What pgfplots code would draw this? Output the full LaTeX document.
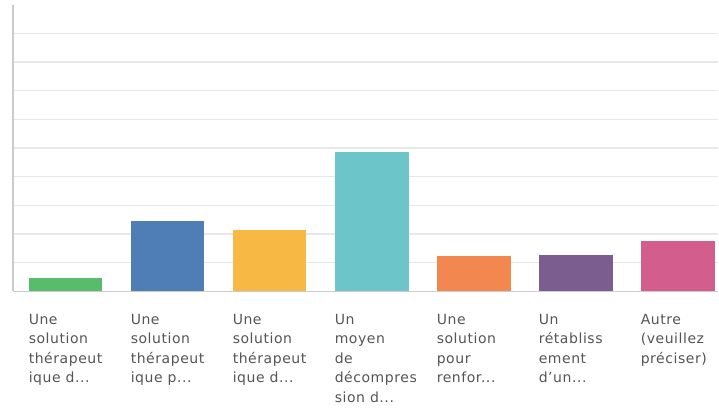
\documentclass[border=0pt]{standalone}
\usepackage{pgfplots}
\pgfplotsset{compat=1.18}
\usepackage{fontspec}
\setmainfont{DejaVu Sans}[LetterSpace=4]
\definecolor{cgreen}{HTML}{57BC6C}
\definecolor{cblue}{HTML}{4F7DB5}
\definecolor{cyellow}{HTML}{F7B944}
\definecolor{cteal}{HTML}{6CC5C9}
\definecolor{corange}{HTML}{F2884F}
\definecolor{cpurple}{HTML}{7C5D8F}
\definecolor{cpink}{HTML}{D35E8D}
\definecolor{labgray}{HTML}{555555}
\newcommand\el{...}
\begin{document}
\begin{tikzpicture}
\path (-13bp,-117.3bp) rectangle (706bp,291.7bp);
\begin{axis}[
  scale only axis,
  width=706bp, height=287bp,
  ybar, bar width=74bp, bar shift=0pt,
  xmin=-0.515, xmax=6.4,
  ymin=0, ymax=10,
  ytick={1,2,3,4,5,6,7,8,9}, yticklabels={},
  ymajorgrids, grid style={color=black!9, line width=1.2pt},
  major tick length=0pt,
  axis x line*=bottom, axis y line*=left,
  axis line style={color=black!20, line width=1.3pt, -},
  xtick={0,1,2,3,4,5,6},
  xticklabels={
    {Une\\solution\\thérapeut\\ique d\el},
    {Une\\solution\\thérapeut\\ique p\el},
    {Une\\solution\\thérapeut\\ique d\el},
    {Un\\moyen\\de\\décompres\\sion d\el},
    {Une\\solution\\pour\\renfor\el},
    {Un\\rétabliss\\ement\\d’un\el},
    {Autre\\(veuillez\\préciser)}},
  xticklabel style={anchor=north west, align=left, inner sep=0pt,
    xshift=-37bp, yshift=-22.3bp, text=labgray,
    font=\fontsize{14bp}{19.5bp}\selectfont},
  every axis plot/.append style={draw=none},
]
\addplot[fill=cgreen] coordinates {(0,0.47)};
\addplot[fill=cblue] coordinates {(1,2.47)};
\addplot[fill=cyellow] coordinates {(2,2.13)};
\addplot[fill=cteal] coordinates {(3,4.86)};
\addplot[fill=corange] coordinates {(4,1.22)};
\addplot[fill=cpurple] coordinates {(5,1.27)};
\addplot[fill=cpink] coordinates {(6,1.77)};
\end{axis}
\end{tikzpicture}
\end{document}
